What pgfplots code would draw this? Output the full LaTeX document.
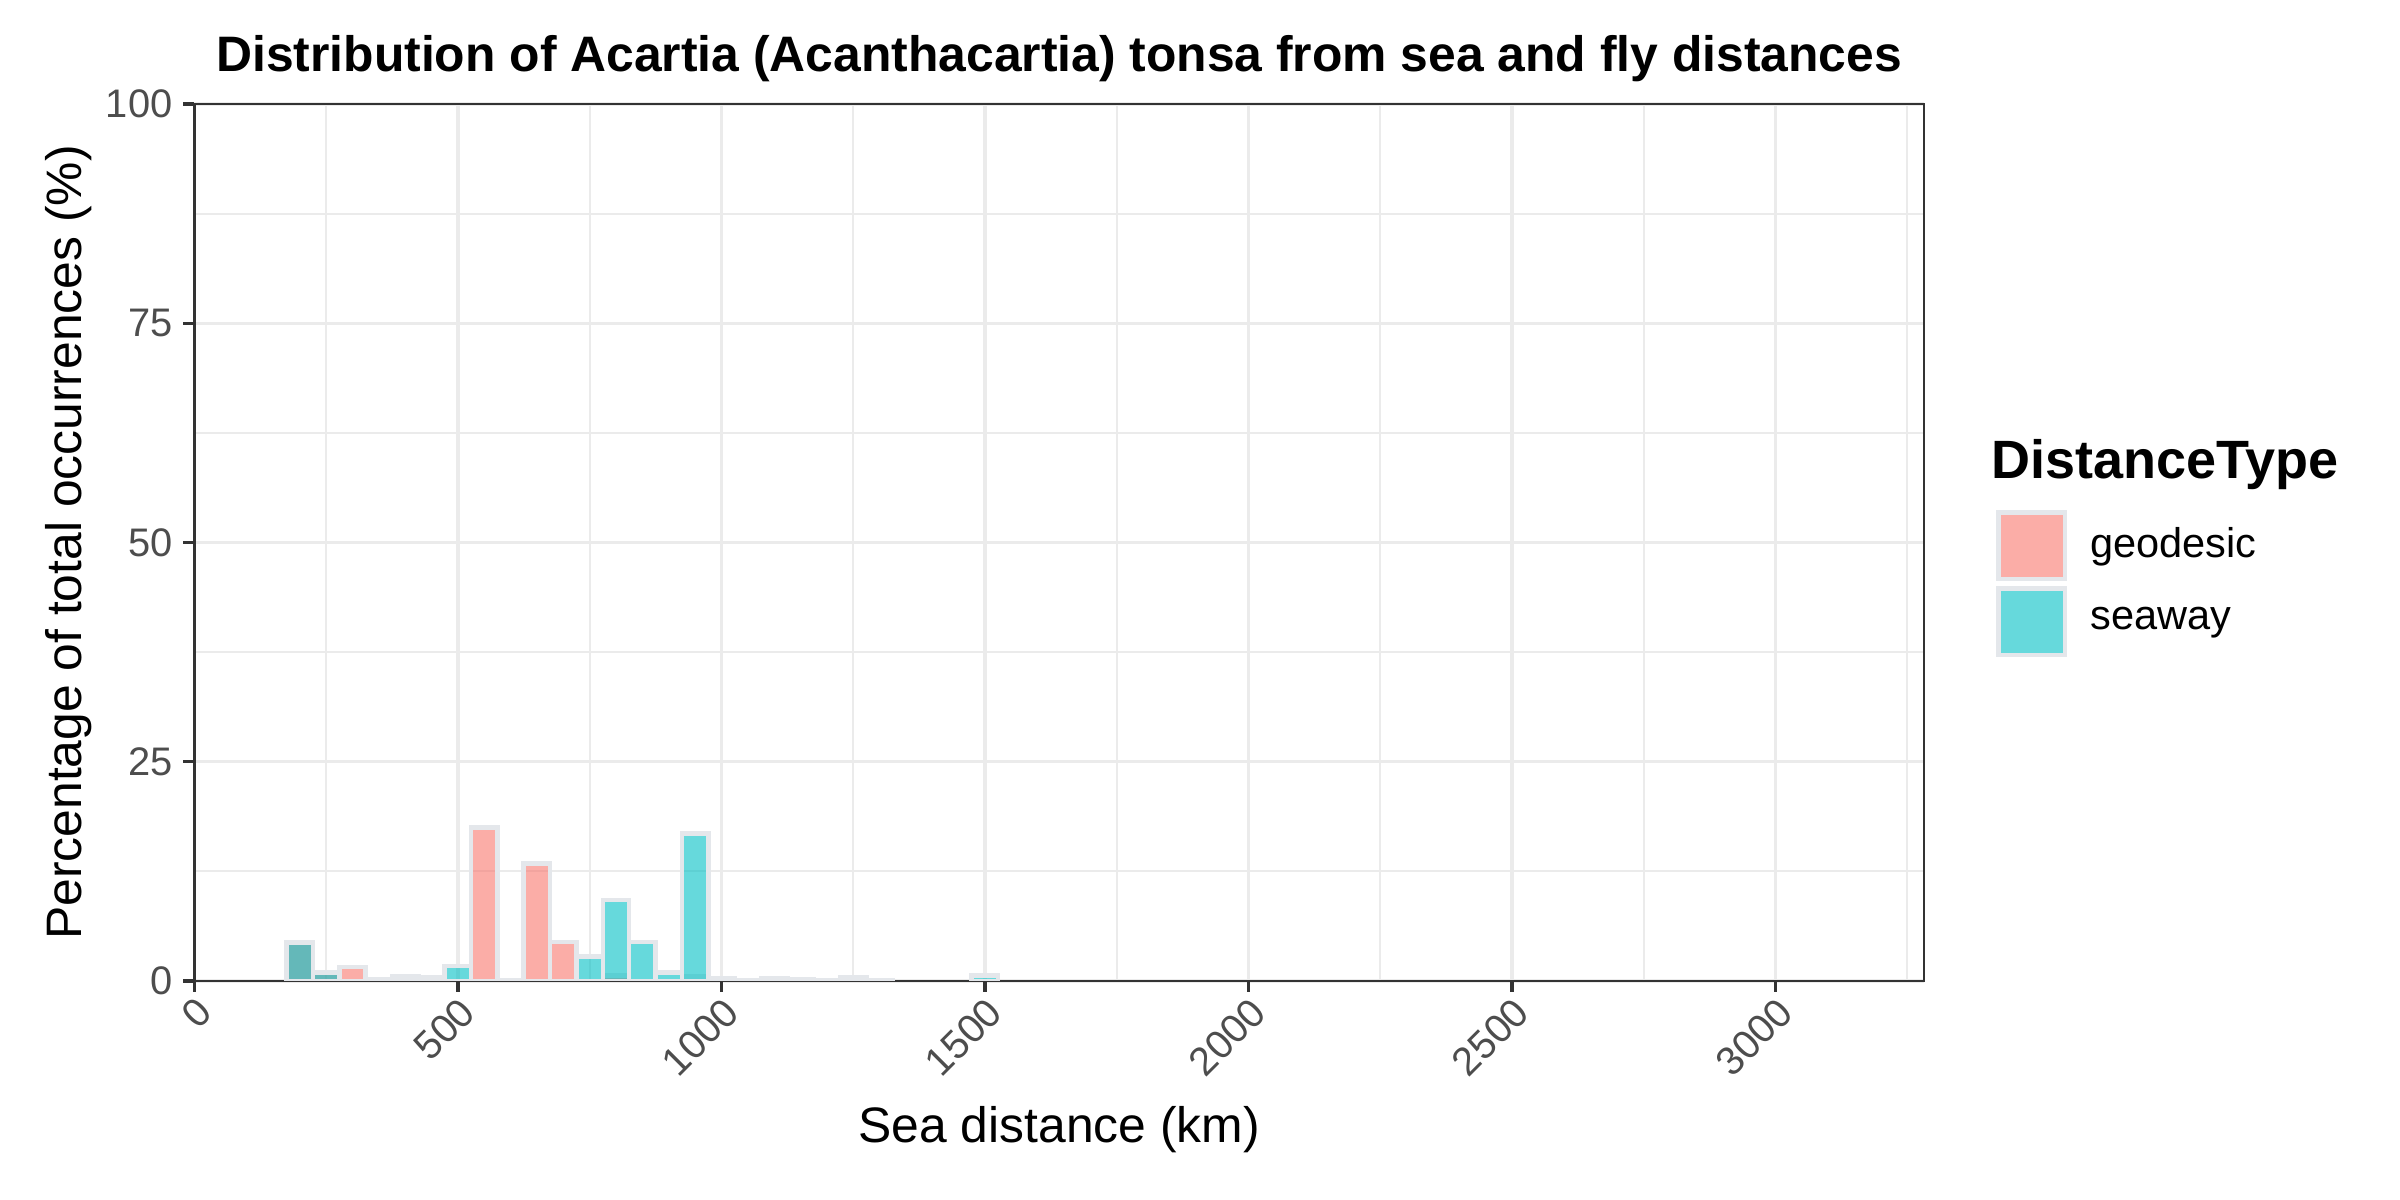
\documentclass[border=0pt]{standalone}
\usepackage{fontspec}
\setmainfont{Liberation Sans}
\usepackage{pgfplots}
\pgfplotsset{compat=1.18}
\definecolor{geo}{HTML}{F8766D}
\definecolor{sea}{HTML}{00BFC4}
\definecolor{outl}{HTML}{E4E7EB}
\definecolor{gridc}{HTML}{EBEBEB}
\definecolor{grey20}{HTML}{333333}
\definecolor{grey30}{HTML}{4D4D4D}
\pgfplotsset{
  sqlegend/.style={legend image code/.code={\draw[##1] (0pt,-8pt) rectangle (16pt,8pt); \path[draw=none,fill=none] (16pt,0pt) -- (22.1pt,0pt);}}}
\begin{document}
\begin{tikzpicture}
\path[use as bounding box] (0,0) rectangle (578.16pt,289.08pt);
\begin{axis}[
  clip mode=individual,
  at={(46.83pt,52.76pt)}, anchor=south west,
  scale only axis, width=416.66pt, height=211.27pt,
  xmin=0, xmax=3282, ymin=0, ymax=100,
  xtick={0,500,...,3000}, ytick={0,25,50,75,100},
  minor xtick={250,750,...,3250}, minor ytick={12.5,37.5,62.5,87.5},
  grid=both,
  major grid style={gridc, line width=0.8pt},
  minor grid style={gridc, line width=0.45pt},
  tick align=outside, tick pos=left,
  major tick length=2.65pt, minor tick length=0pt,
  tick style={grey20, line width=0.8pt},
  axis line style={grey20, line width=0.6pt},
  /pgf/number format/assume math mode=true,
  /pgf/number format/1000 sep={},
  scaled ticks=false,
  xticklabel style={rotate=45, anchor=north east, inner sep=0pt, font=\fontsize{9.6}{10}\selectfont, text=grey30},
  yticklabel style={anchor=east, inner sep=0pt, font=\fontsize{9.6}{10}\selectfont, text=grey30},
  xticklabel shift=0.6pt, yticklabel shift=2.45pt,
  title={Distribution of Acartia (Acanthacartia) tonsa from sea and fly distances},
  title style={at={(axis description cs:0.5,1.0369)}, anchor=base, yshift=-6pt, inner sep=0pt, font=\bfseries\fontsize{12}{14}\selectfont},
  xlabel={Sea distance (km)},
  xlabel style={at={(axis description cs:0.5,-0.1844)}, anchor=base, inner sep=0pt, font=\fontsize{12}{14}\selectfont},
  ylabel={Percentage of total occurrences (\%)},
  ylabel style={at={(axis description cs:-0.065,0.5)}, anchor=base, inner sep=0pt, font=\fontsize{12}{14}\selectfont},
  legend style={at={(axis description cs:1.0418,0.5366)}, anchor=north west, draw=none, fill=none,
    inner sep=0pt, outer sep=0pt, row sep=1.2pt, column sep=0pt,
    font=\fontsize{10}{12}\selectfont, cells={anchor=west}, nodes={inner sep=0pt}},
]
\addplot[ybar, bar width=50, bar shift=0pt,
  fill=geo, fill opacity=0.6, draw=outl, line width=1.1pt, sqlegend]
  coordinates {(200,4.4) (250,0.95) (300,1.6) (350,0.15) (400,0.5) (550,17.5) (600,0.05)
   (650,13.4) (700,4.45) (800,0.6) (950,0.5) (1050,0.1) (1100,0.3) (1150,0.2) (1200,0.1) (1300,0.1)};
\addlegendentry{geodesic}
\addplot[ybar, bar width=50, bar shift=0pt,
  fill=sea, fill opacity=0.6, draw=outl, line width=1.1pt, sqlegend]
  coordinates {(200,4.4) (250,0.95) (400,0.1) (450,0.38) (500,1.7) (750,2.8) (800,9.24)
   (850,4.45) (900,1.0) (950,16.84) (1000,0.3) (1250,0.46) (1500,0.65)};
\addlegendentry{seaway}
\node[anchor=base west, inner sep=0pt, font=\bfseries\fontsize{13}{15}\selectfont]
  at (axis description cs:1.0387,0.5724) {DistanceType};
\end{axis}
\end{tikzpicture}
\end{document}
